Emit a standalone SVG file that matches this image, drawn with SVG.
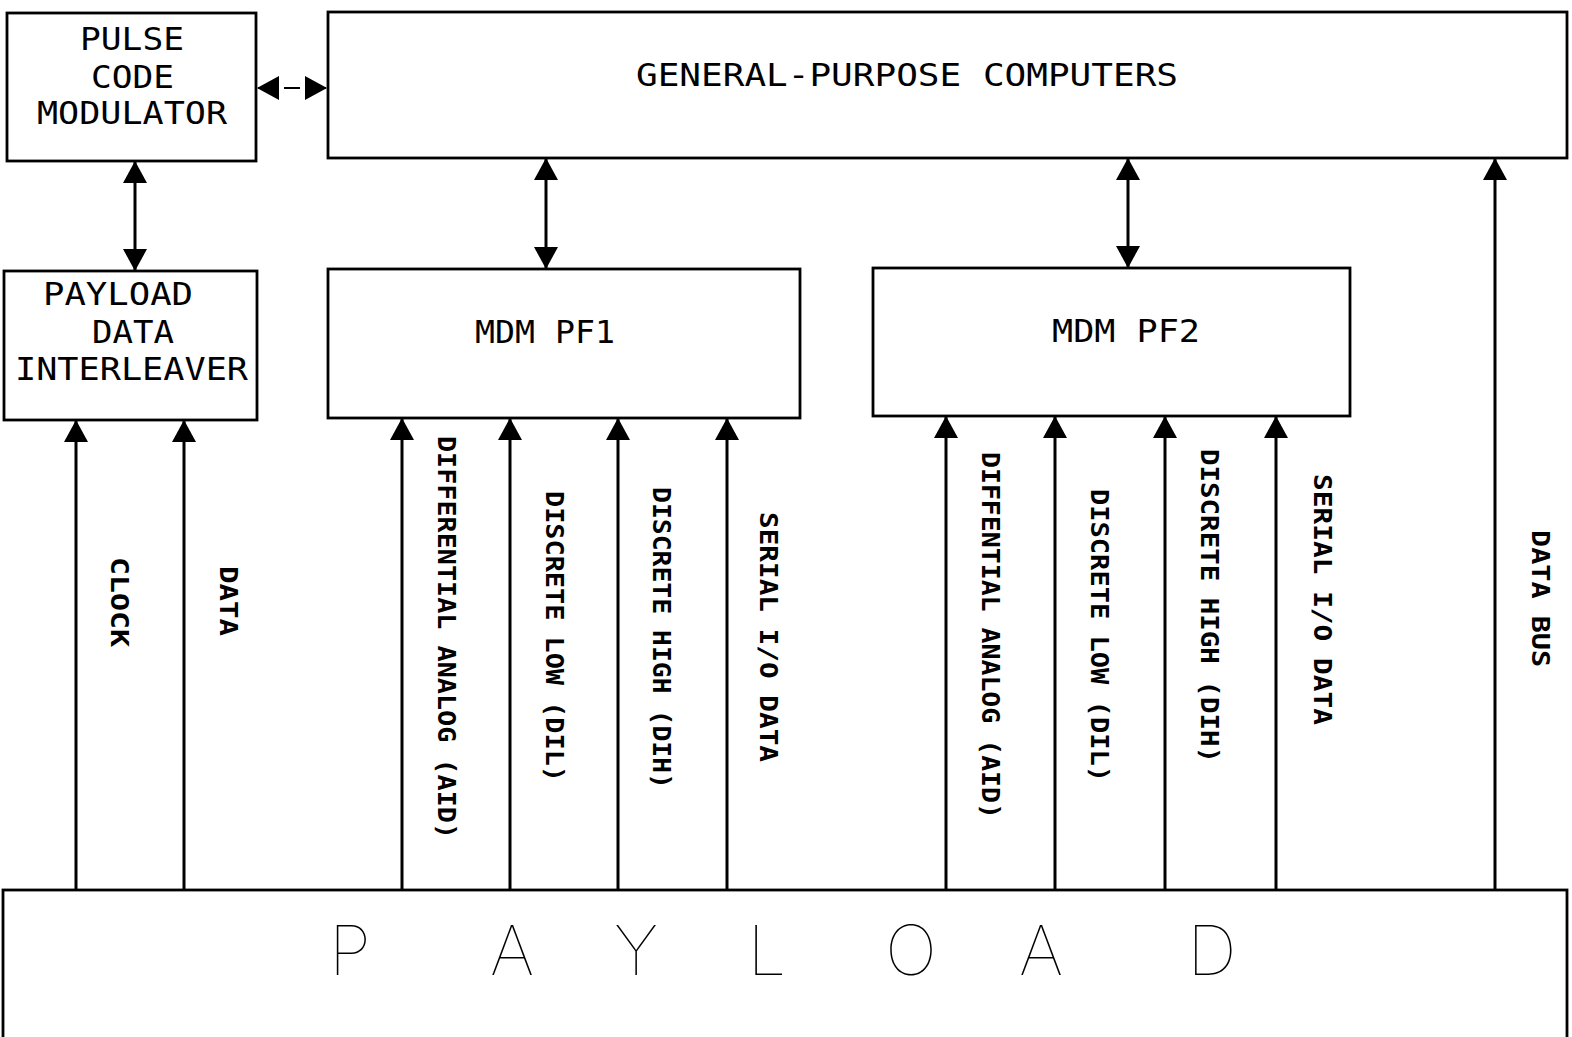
<svg xmlns="http://www.w3.org/2000/svg" width="1572" height="1037" viewBox="0 0 1572 1037">
  <defs>
    <style>
      .box { fill: #ffffff; stroke: #000000; stroke-width: 2.8; }
      .lbl { font-family: "DejaVu Sans Mono", "Liberation Mono", monospace; fill: #000000; }
      .big { font-size: 32px; }
      .side { font-size: 24px; font-weight: bold; }
      .wire { stroke: #000000; stroke-width: 3; fill: none; }
      .thin { stroke-width: 2; }
      .payload { font-family: Inter, "DejaVu Sans", sans-serif; font-weight: 100; font-size: 69px; fill: #000000; text-anchor: middle; }
    </style>
    <marker id="head" viewBox="0 0 22 24" refX="21" refY="12" markerWidth="22" markerHeight="24" markerUnits="userSpaceOnUse" orient="auto-start-reverse">
      <path d="M0,0 L22,12 L0,24 Z" fill="#000000"/>
    </marker>
  </defs>
  <rect width="1572" height="1037" fill="#ffffff"/>

  <!-- blocks -->
  <g id="pcm">
    <rect class="box" x="7" y="13" width="249" height="148"/>
    <text class="lbl big" x="80" y="50" textLength="104" lengthAdjust="spacingAndGlyphs">PULSE</text>
    <text class="lbl big" x="91" y="88" textLength="83" lengthAdjust="spacingAndGlyphs">CODE</text>
    <text class="lbl big" x="37" y="124" textLength="190" lengthAdjust="spacingAndGlyphs">MODULATOR</text>
  </g>
  <g id="gpc">
    <rect class="box" x="328" y="12" width="1239" height="146"/>
    <text class="lbl big" x="636" y="86" textLength="542" lengthAdjust="spacingAndGlyphs">GENERAL-PURPOSE COMPUTERS</text>
  </g>
  <g id="pdi">
    <rect class="box" x="4" y="271" width="253" height="149"/>
    <text class="lbl big" x="43" y="305" textLength="150" lengthAdjust="spacingAndGlyphs">PAYLOAD</text>
    <text class="lbl big" x="92" y="343" textLength="82" lengthAdjust="spacingAndGlyphs">DATA</text>
    <text class="lbl big" x="15" y="380" textLength="233" lengthAdjust="spacingAndGlyphs">INTERLEAVER</text>
  </g>
  <g id="mdm-pf1">
    <rect class="box" x="328" y="269" width="472" height="149"/>
    <text class="lbl big" x="475" y="343" textLength="140" lengthAdjust="spacingAndGlyphs">MDM PF1</text>
  </g>
  <g id="mdm-pf2">
    <rect class="box" x="873" y="268" width="477" height="148"/>
    <text class="lbl big" x="1052" y="342" textLength="148" lengthAdjust="spacingAndGlyphs">MDM PF2</text>
  </g>
  <g id="payload">
    <rect class="box" x="3" y="890" width="1564" height="160"/>
    <text class="payload" x="350" y="975">P</text>
    <text class="payload" x="512" y="975">A</text>
    <text class="payload" x="636" y="975">Y</text>
    <text class="payload" x="767" y="975">L</text>
    <text class="payload" x="911" y="975">O</text>
    <text class="payload" x="1041" y="975">A</text>
    <text class="payload" x="1212" y="975">D</text>
  </g>

  <!-- connectors -->
  <g id="connectors">
    <line class="wire thin" x1="258" y1="88" x2="326" y2="88" stroke-dasharray="18 8 16 8 18" marker-start="url(#head)" marker-end="url(#head)"/>
    <line class="wire" x1="135" y1="162" x2="135" y2="270" marker-start="url(#head)" marker-end="url(#head)"/>
    <line class="wire" x1="546" y1="159" x2="546" y2="268" marker-start="url(#head)" marker-end="url(#head)"/>
    <line class="wire" x1="1128" y1="159" x2="1128" y2="267" marker-start="url(#head)" marker-end="url(#head)"/>

    <line class="wire" x1="76" y1="890" x2="76" y2="421" marker-end="url(#head)"/>
    <line class="wire" x1="184" y1="890" x2="184" y2="421" marker-end="url(#head)"/>

    <line class="wire" x1="402" y1="890" x2="402" y2="419" marker-end="url(#head)"/>
    <line class="wire" x1="510" y1="890" x2="510" y2="419" marker-end="url(#head)"/>
    <line class="wire" x1="618" y1="890" x2="618" y2="419" marker-end="url(#head)"/>
    <line class="wire" x1="727" y1="890" x2="727" y2="419" marker-end="url(#head)"/>

    <line class="wire" x1="946" y1="890" x2="946" y2="417" marker-end="url(#head)"/>
    <line class="wire" x1="1055" y1="890" x2="1055" y2="417" marker-end="url(#head)"/>
    <line class="wire" x1="1165" y1="890" x2="1165" y2="417" marker-end="url(#head)"/>
    <line class="wire" x1="1276" y1="890" x2="1276" y2="417" marker-end="url(#head)"/>

    <line class="wire" x1="1495" y1="890" x2="1495" y2="159" marker-end="url(#head)"/>
  </g>

  <!-- signal names, written down the page -->
  <g id="signal-labels">
    <text class="lbl side" transform="translate(119,557) rotate(90)" x="0" y="8.5" textLength="90" lengthAdjust="spacingAndGlyphs">CLOCK</text>
    <text class="lbl side" transform="translate(228,566) rotate(90)" x="0" y="8.5" textLength="70" lengthAdjust="spacingAndGlyphs">DATA</text>

    <text class="lbl side" transform="translate(446,436) rotate(90)" x="0" y="8.5" textLength="403" lengthAdjust="spacingAndGlyphs">DIFFERENTIAL ANALOG (AID)</text>
    <text class="lbl side" transform="translate(554,491) rotate(90)" x="0" y="8.5" textLength="291" lengthAdjust="spacingAndGlyphs">DISCRETE LOW (DIL)</text>
    <text class="lbl side" transform="translate(661,487) rotate(90)" x="0" y="8.5" textLength="302" lengthAdjust="spacingAndGlyphs">DISCRETE HIGH (DIH)</text>
    <text class="lbl side" transform="translate(768,512) rotate(90)" x="0" y="8.5" textLength="250" lengthAdjust="spacingAndGlyphs">SERIAL I/O DATA</text>

    <text class="lbl side" transform="translate(990,452) rotate(90)" x="0" y="8.5" textLength="367" lengthAdjust="spacingAndGlyphs">DIFFENTIAL ANALOG (AID)</text>
    <text class="lbl side" transform="translate(1099,489) rotate(90)" x="0" y="8.5" textLength="293" lengthAdjust="spacingAndGlyphs">DISCRETE LOW (DIL)</text>
    <text class="lbl side" transform="translate(1209,449) rotate(90)" x="0" y="8.5" textLength="314" lengthAdjust="spacingAndGlyphs">DISCRETE HIGH (DIH)</text>
    <text class="lbl side" transform="translate(1322,474) rotate(90)" x="0" y="8.5" textLength="251" lengthAdjust="spacingAndGlyphs">SERIAL I/O DATA</text>

    <text class="lbl side" transform="translate(1540,530) rotate(90)" x="0" y="8.5" textLength="137" lengthAdjust="spacingAndGlyphs">DATA BUS</text>
  </g>
</svg>
